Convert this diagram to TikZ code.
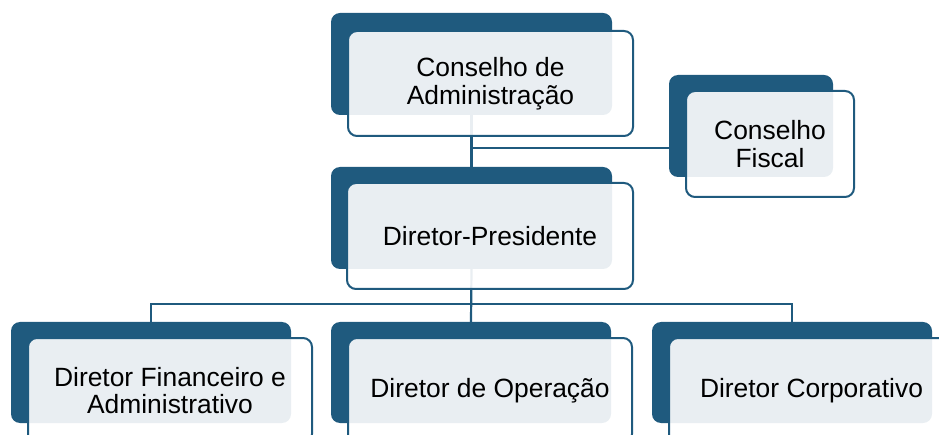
\documentclass[tikz,border=0pt]{standalone}
\usepackage{fontspec}
\setmainfont{Liberation Sans}
\definecolor{navy}{RGB}{31,90,126}
\pgfdeclarelayer{background}
\pgfsetlayers{background,main}
\begin{document}
\begin{tikzpicture}[x=1pt,y=-1pt,
  darkbox/.style={fill=navy, draw=none, rounded corners=9pt, minimum height=102pt, inner sep=0pt},
  frontbox/.style={fill=white, fill opacity=0.9, text opacity=1, draw=navy, line width=2pt, rounded corners=9pt, minimum height=105pt, inner sep=0pt, align=center, text=black, font=\fontsize{26.4}{27.5}\selectfont},
  conn/.style={draw=navy, line width=2.2pt}]
\useasboundingbox (0,0) rectangle (939,435);
% dark back boxes
\node[darkbox, minimum width=281pt] (caD) at (471.5,64) {};
\node[darkbox, minimum width=164pt] (cfD) at (751,126) {};
\node[darkbox, minimum width=281pt] (dpD) at (471.5,218) {};
\node[darkbox, minimum width=280pt, minimum height=101pt] (lD) at (151,372.5) {};
\node[darkbox, minimum width=280pt, minimum height=101pt] (mD) at (471,372.5) {};
\node[darkbox, minimum width=280pt, minimum height=101pt] (rD) at (792,372.5) {};
% connectors (behind boxes)
\coordinate (j1) at (471,148);
\coordinate (bus) at (471,304);
\begin{pgfonlayer}{background}
\draw[conn] (caD.south) -- (dpD.north);
\draw[conn] (j1) -- (j1 -| cfD.west);
\draw[conn] (dpD.south) -- (mD.north);
\draw[conn] (lD.north) |- (bus) -| (rD.north);
\end{pgfonlayer}
% front boxes
\node[frontbox, minimum width=285pt] (ca) at (490.5,83.5) {Conselho de\\Administração};
\node[frontbox, minimum width=168pt, minimum height=106pt] (cf) at (770,144) {Conselho\\Fiscal};
\node[frontbox, minimum width=286pt, minimum height=106pt] (dp) at (490,236) {Diretor-Presidente};
\node[frontbox, minimum width=284pt] (l) at (170,390.5) {Diretor Financeiro e\\Administrativo};
\node[frontbox, minimum width=284pt] (m) at (490,390.5) {Diretor de Operação};
\node[frontbox, minimum width=285pt] (r) at (811.5,390.5) {Diretor Corporativo};
\end{tikzpicture}
\end{document}
